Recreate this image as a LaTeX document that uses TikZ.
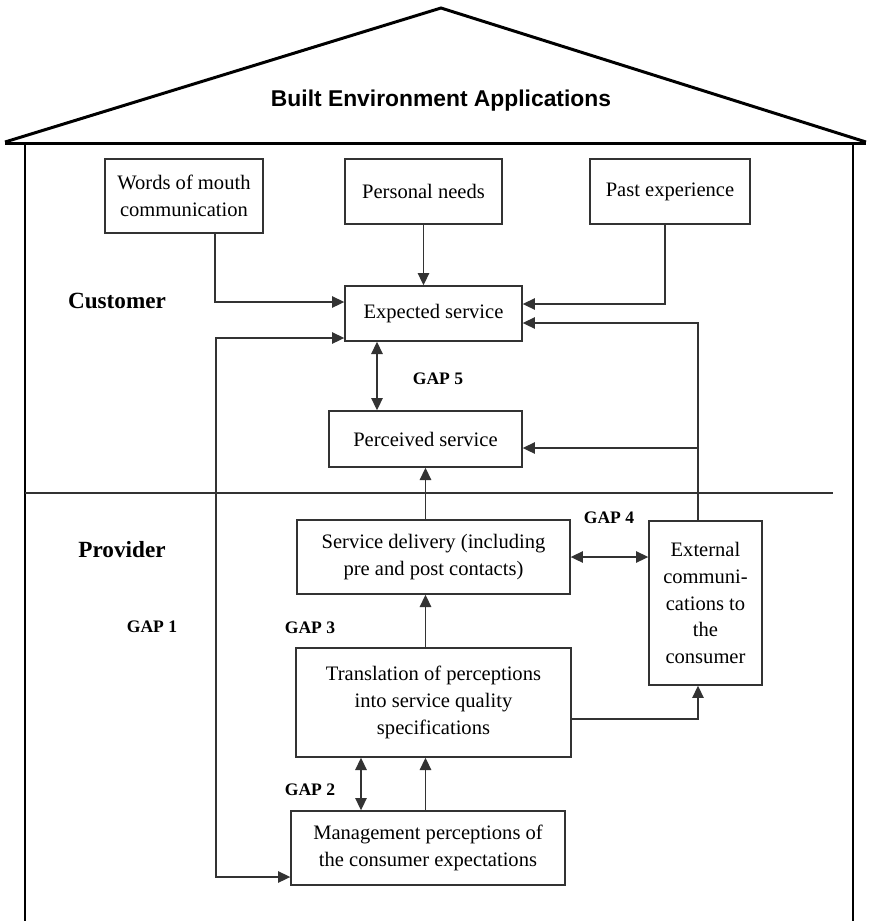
\documentclass[tikz,border=0pt]{standalone}
\usepackage{fontspec}
\setmainfont{Liberation Serif}
\newfontfamily\titlefont{Liberation Sans}
\usetikzlibrary{arrows.meta,positioning}

\begin{document}
\begin{tikzpicture}[x=0.02cm,y=-0.02cm,
        box/.style={draw=black!80,line width=0.8pt,align=center,inner sep=2pt,font=\fontsize{11.7}{15.3}\selectfont},
        arr/.style={draw=black!80,line width=0.8pt,-{Triangle[length=7pt,width=6.5pt]}},
        dbl/.style={arr,{Triangle[length=7pt,width=6.5pt]}-{Triangle[length=7pt,width=6.5pt]}},
        gap/.style={font=\bfseries\fontsize{10}{12}\selectfont},
        side/.style={font=\bfseries\fontsize{13.2}{15}\selectfont},
        wall/.style={line width=1.7pt}]
        \useasboundingbox (0,0) rectangle (869,921);

        % house
        \draw[wall,line join=miter] (5,142) -- (441,8) -- (866,142);
        \draw[wall] (5,143) -- (866,143);
        \draw[wall] (25,143) -- (25,921);
        \draw[wall] (853,143) -- (853,921);
        \node[font=\titlefont\bfseries\fontsize{13}{15}\selectfont] (title) at (441,101) {Built Environment Applications};

        % customer side
        \node[box,minimum width=3.16cm,minimum height=1.48cm] (wom) at (184,196) {Words of mouth\\communication};
        \node[box,minimum width=3.14cm,minimum height=1.3cm] (pn) at (423.5,191.5) {Personal needs};
        \node[box,minimum width=3.2cm,minimum height=1.3cm] (pe) at (670,191.5) {Past experience};
        \node[box,minimum width=3.54cm,minimum height=1.1cm] (exp) at (433.5,313.5) {Expected service};
        \node[box,minimum width=3.86cm,minimum height=1.12cm] (per) at (425.5,439) {Perceived service};
        \node[side] (cust) at (117,301) {Customer};

        \draw[black!80,line width=0.8pt] (25,493) -- (833,493);

        % provider side
        \node[side] (prov) at (122,550) {Provider};
        \node[box,minimum width=5.46cm,minimum height=1.48cm] (sd) at (433.5,557) {Service delivery (including\\pre and post contacts)};
        \node[box,minimum width=2.26cm,minimum height=3.28cm] (ext) at (705.5,603) {External\\communi-\\cations to\\the\\consumer};
        \node[box,minimum width=5.5cm,minimum height=2.18cm] (tr) at (433.5,702.5) {Translation of perceptions\\into service quality\\specifications};
        \node[box,minimum width=5.48cm,minimum height=1.48cm] (mp) at (428,848) {Management perceptions of\\the consumer expectations};

        \node[gap] (g1) at (152,627) {GAP 1};
        \node[gap] (g2) at (310,790) {GAP 2};
        \node[gap] (g3) at (310,628) {GAP 3};
        \node[gap] (g4) at (609,518) {GAP 4};
        \node[gap] (g5) at (438,379) {GAP 5};

        % bends
        \coordinate (wom1) at (215,302);
        \coordinate (pe1) at (665,304);
        \coordinate (ext1) at (698,323);
        \coordinate (ext2) at (698,448);
        \coordinate (tr1) at (698,719);
        \coordinate (gt) at (216,338);
        \coordinate (gb) at (216,877);
        \coordinate (x5) at (377,0);
        \coordinate (x2) at (361,0);

        \draw[arr] (wom.south -| wom1) -- (wom1) -- (exp.west |- wom1);
        \draw[arr] (pn.south) -- (pn.south |- exp.north);
        \draw[arr] (pe.south -| pe1) -- (pe1) -- (exp.east |- pe1);
        \draw[arr] (ext.north -| ext1) -- (ext1) -- (exp.east |- ext1);
        \draw[arr] (ext2) -- (per.east |- ext2);
        \draw[dbl] (exp.south -| x5) -- (per.north -| x5);
        \draw[arr] (sd.north -| per.south) -- (per.south);
        \draw[dbl] (sd.east) -- (ext.west |- sd.east);
        \draw[arr] (tr.north -| per.south) -- (sd.south -| per.south);
        \draw[arr] (tr.east |- tr1) -- (tr1) -- (ext.south -| tr1);
        \draw[arr] (mp.north -| per.south) -- (tr.south -| per.south);
        \draw[dbl] (tr.south -| x2) -- (mp.north -| x2);
        \draw[dbl] (exp.west |- gt) -- (gt) -- (gb) -- (mp.west |- gb);
    \end{tikzpicture}
\end{document}
